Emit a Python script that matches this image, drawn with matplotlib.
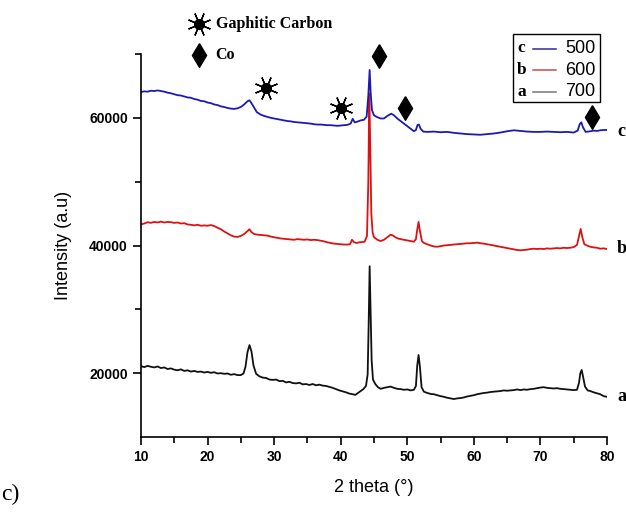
import matplotlib
matplotlib.use("Agg")
import matplotlib.pyplot as plt
from matplotlib.patches import Rectangle
from matplotlib.lines import Line2D
from matplotlib.ticker import FixedLocator

# ---- XRD patterns (2 theta in degrees, intensity in counts) ----
theta_a = [10.0, 10.5, 11.0, 11.5, 12.0, 12.5, 13.0, 13.5, 14.0, 14.5, 15.0, 15.5, 16.0, 16.5,
           17.0, 17.5, 18.0, 18.5, 19.0, 19.5, 20.0, 20.5, 21.0, 21.5, 22.0, 22.5, 23.0, 23.5,
           24.0, 24.5, 25.0, 25.4, 25.7, 26.0, 26.3, 26.6, 26.9, 27.3, 27.8, 28.3, 28.8, 29.3,
           29.8, 30.3, 30.8, 31.3, 31.8, 32.3, 32.8, 33.3, 33.8, 34.3, 34.8, 35.3, 35.8, 36.3,
           36.8, 37.3, 37.8, 38.3, 38.8, 39.3, 39.8, 40.3, 40.8, 41.3, 41.8, 42.2, 42.6, 43.0,
           43.4, 43.8, 44.05, 44.2, 44.35, 44.5, 44.65, 44.85, 45.2, 45.6, 46.0, 46.5, 47.0, 47.5,
           48.0, 48.5, 49.0, 49.5, 50.0, 50.5, 51.0, 51.3, 51.5, 51.7, 51.9, 52.15, 52.5, 53.0,
           53.5, 54.0, 54.5, 55.0, 55.5, 56.0, 56.5, 57.0, 57.5, 58.0, 58.5, 59.0, 59.5, 60.0,
           60.5, 61.0, 61.5, 62.0, 62.5, 63.0, 63.5, 64.0, 64.5, 65.0, 65.5, 66.0, 66.5, 67.0,
           67.5, 68.0, 68.5, 69.0, 69.5, 70.0, 70.5, 71.0, 71.5, 72.0, 72.5, 73.0, 73.5, 74.0,
           74.5, 75.0, 75.5, 75.8, 76.0, 76.2, 76.4, 76.7, 77.1, 77.5, 78.0, 78.5, 79.0, 79.5, 80.0]
int_a = [21100, 20950, 21150, 21000, 20900, 21050, 20800, 20900, 20650, 20750, 20550, 20450, 20600, 20350,
         20450, 20250, 20350, 20200, 20250, 20100, 20200, 20050, 20150, 19950, 20000, 19900, 19950, 19750,
         19850, 19700, 19700, 19950, 21000, 23300, 24400, 23400, 21200, 19900, 19500, 19300, 19250, 19000,
         18950, 19000, 18750, 18800, 18550, 18650, 18450, 18400, 18500, 18250, 18300, 18150, 18300, 18100,
         18200, 18050, 18000, 17850, 17700, 17500, 17300, 17150, 17000, 16800, 16700, 16600, 16900, 17200,
         17500, 18000, 19800, 27500, 36750, 29500, 22000, 19000, 18300, 17800, 17550, 17700, 17800, 17900,
         17700, 17550, 17500, 17400, 17450, 17300, 17400, 18000, 21200, 22850, 21000, 17800, 17100, 16900,
         16750, 16700, 16550, 16400, 16300, 16150, 16050, 15950, 16050, 16100, 16200, 16350, 16450, 16550,
         16700, 16800, 16900, 16950, 17050, 17100, 17150, 17200, 17300, 17250, 17300, 17350, 17450, 17350,
         17450, 17400, 17500, 17550, 17650, 17750, 17800, 17700, 17650, 17600, 17650, 17550, 17500, 17450,
         17400, 17350, 17400, 18500, 20000, 20500, 19500, 17900, 17300, 17200, 17000, 16850, 16700, 16400, 16300]

theta_b = [10.0, 10.5, 11.0, 11.5, 12.0, 12.5, 13.0, 13.5, 14.0, 14.5, 15.0, 15.5, 16.0, 16.5,
           17.0, 17.5, 18.0, 18.5, 19.0, 19.5, 20.0, 20.5, 21.0, 21.5, 22.0, 22.5, 23.0, 23.5,
           24.0, 24.5, 25.0, 25.5, 26.0, 26.3, 26.6, 27.0, 27.5, 28.0, 28.5, 29.0, 29.5, 30.0,
           30.5, 31.0, 31.5, 32.0, 32.5, 33.0, 33.5, 34.0, 34.5, 35.0, 35.5, 36.0, 36.5, 37.0,
           37.5, 38.0, 38.5, 39.0, 39.5, 40.0, 40.5, 41.0, 41.4, 41.7, 42.0, 42.4, 42.8, 43.2,
           43.6, 43.95, 44.15, 44.3, 44.45, 44.6, 44.8, 45.0, 45.5, 46.0, 46.5, 47.0, 47.5, 47.8,
           48.2, 48.6, 49.0, 49.5, 50.0, 50.5, 51.0, 51.3, 51.5, 51.7, 51.9, 52.2, 52.5, 53.0,
           53.5, 54.0, 54.5, 55.0, 55.5, 56.0, 56.5, 57.0, 57.5, 58.0, 58.5, 59.0, 59.5, 60.0,
           60.5, 61.0, 61.5, 62.0, 62.5, 63.0, 63.5, 64.0, 64.5, 65.0, 65.5, 66.0, 66.5, 67.0,
           67.5, 68.0, 68.5, 69.0, 69.5, 70.0, 70.5, 71.0, 71.5, 72.0, 72.5, 73.0, 73.5, 74.0,
           74.5, 75.0, 75.5, 75.8, 76.05, 76.3, 76.6, 77.0, 77.5, 78.0, 78.5, 79.0, 79.5, 80.0]
int_b = [43300, 43450, 43650, 43550, 43700, 43600, 43750, 43600, 43700, 43650, 43550, 43600, 43450, 43500,
         43300, 43250, 43150, 43250, 43100, 43150, 43100, 43200, 43050, 42800, 42550, 42200, 41900, 41600,
         41400, 41350, 41500, 41800, 42250, 42550, 42100, 41800, 41700, 41650, 41600, 41550, 41400, 41300,
         41200, 41100, 41050, 41000, 40950, 40900, 41000, 40950, 40900, 40950, 40850, 40900, 40850, 40750,
         40650, 40500, 40400, 40300, 40250, 40200, 40150, 40150, 40200, 40900, 40500, 40400, 40500, 40550,
         40600, 41500, 50000, 63800, 55000, 45000, 42000, 41300, 40900, 40700, 40900, 41300, 41700, 41600,
         41300, 41100, 41000, 40900, 40800, 40700, 40600, 41000, 42500, 43700, 42300, 40700, 40400, 40200,
         40000, 39850, 39800, 39900, 40000, 40050, 40100, 40150, 40200, 40250, 40300, 40350, 40350, 40400,
         40450, 40350, 40300, 40200, 40100, 40000, 39900, 39800, 39700, 39600, 39500, 39400, 39300, 39250,
         39300, 39350, 39450, 39500, 39450, 39500, 39450, 39550, 39500, 39550, 39600, 39550, 39650, 39600,
         39650, 39750, 40100, 41500, 42600, 41300, 40200, 40000, 39800, 39700, 39650, 39500, 39550, 39450]

theta_c = [10.0, 10.5, 11.0, 11.5, 12.0, 12.5, 13.0, 13.5, 14.0, 14.5, 15.0, 15.5, 16.0, 16.5,
           17.0, 17.5, 18.0, 18.5, 19.0, 19.5, 20.0, 20.5, 21.0, 21.5, 22.0, 22.5, 23.0, 23.5,
           24.0, 24.5, 25.0, 25.5, 26.0, 26.3, 26.6, 27.0, 27.4, 28.0, 28.5, 29.0, 29.5, 30.0,
           30.5, 31.0, 31.5, 32.0, 32.5, 33.0, 33.5, 34.0, 34.5, 35.0, 35.5, 36.0, 36.5, 37.0,
           37.5, 38.0, 38.5, 39.0, 39.5, 40.0, 40.5, 41.0, 41.5, 41.8, 42.1, 42.5, 43.0, 43.5,
           43.9, 44.15, 44.35, 44.5, 44.7, 45.0, 45.5, 46.0, 46.5, 47.0, 47.6, 48.0, 48.5, 49.0,
           49.5, 50.0, 50.5, 51.0, 51.3, 51.55, 51.75, 52.0, 52.4, 53.0, 54.0, 55.0, 56.0, 57.0,
           58.0, 59.0, 60.0, 61.0, 62.0, 63.0, 64.0, 65.0, 66.0, 67.0, 68.0, 69.0, 70.0, 71.0,
           72.0, 73.0, 74.0, 75.0, 75.6, 75.9, 76.15, 76.4, 76.8, 77.5, 78.0, 78.5, 79.0, 79.5, 80.0]
int_c = [64050, 64150, 64100, 64250, 64200, 64300, 64200, 64100, 63950, 63850, 63700, 63550, 63500, 63350,
         63200, 63150, 62950, 62850, 62650, 62600, 62400, 62300, 62100, 62000, 61800, 61700, 61550, 61450,
         61400, 61500, 61700, 62100, 62600, 62750, 62300, 61600, 60900, 60500, 60300, 60150, 60000, 59900,
         59800, 59700, 59600, 59500, 59450, 59350, 59300, 59250, 59200, 59150, 59100, 59000, 58950, 58950,
         58900, 58850, 58850, 58800, 58750, 58800, 58850, 58900, 59100, 59850, 59300, 59400, 59600, 59700,
         60200, 63500, 67500, 64000, 61200, 60400, 60100, 59900, 59900, 60300, 60650, 60400, 59900, 59500,
         59100, 58700, 58300, 57900, 58100, 58900, 58950, 58300, 57850, 57800, 57850, 57750, 57800, 57650,
         57550, 57450, 57400, 57350, 57450, 57550, 57700, 57900, 58050, 57950, 57850, 57800, 57800, 57850,
         57800, 57750, 57800, 57700, 58000, 59000, 59300, 58500, 57800, 57900, 58000, 57950, 58050, 58100, 58100]

series_letters = ["c", "b", "a"]
series_temps = ["500", "600", "700"]

# peak markers
carbon_theta = [28.8, 40.1]
carbon_int = [64700, 61600]
co_theta = [45.8, 49.7, 77.7]
co_int = [69700, 61600, 60150]

fig = plt.figure(figsize=(6.26, 5.14), dpi=100)
ax = fig.add_axes([0.2252, 0.1498, 0.7444, 0.7451])

ax.plot(theta_a, int_a, color="#111111", lw=1.3)
ax.plot(theta_b, int_b, color="#dd1111", lw=1.3)
ax.plot(theta_c, int_c, color="#1a1ab8", lw=1.3)

ax.set_xlim(10, 80)
ax.set_ylim(10000, 70000)
ax.spines["top"].set_visible(False)
ax.spines["right"].set_visible(False)
ax.xaxis.set_major_locator(FixedLocator([10, 20, 30, 40, 50, 60, 70, 80]))
ax.xaxis.set_minor_locator(FixedLocator([15, 25, 35, 45, 55, 65, 75]))
ax.yaxis.set_major_locator(FixedLocator([20000, 40000, 60000]))
ax.yaxis.set_minor_locator(FixedLocator([30000, 50000, 70000]))
ax.tick_params(which="major", direction="out", length=6, width=1.2)
ax.tick_params(which="minor", direction="out", length=4, width=1.2)
for s in ["left", "bottom"]:
    ax.spines[s].set_linewidth(1.2)
for lab in ax.get_xticklabels() + ax.get_yticklabels():
    lab.set_fontfamily("Liberation Sans")
    lab.set_fontweight("bold")
    lab.set_fontsize(10)

ax.set_xlabel("2 theta (°)", family="Liberation Sans", fontsize=13, labelpad=11)
ax.set_ylabel("Intensity (a.u)", family="Liberation Sans", fontsize=13, labelpad=12)

# peak symbols
diamond = [(0, 1), (0.6, 0), (0, -1), (-0.6, 0), (0, 1)]
ax.plot(carbon_theta, carbon_int, ls="none", marker="o", ms=7, color="black", clip_on=False)
ax.plot(carbon_theta, carbon_int, ls="none", marker=(8, 2, 22.5), ms=17, mew=1.0,
        color="black", clip_on=False)
ax.plot(co_theta, co_int, ls="none", marker=diamond, ms=17, color="black", clip_on=False)

# key for peak symbols (above the axes)
ax.plot([18.7], [74700], ls="none", marker="o", ms=7, color="black", clip_on=False)
ax.plot([18.7], [74700], ls="none", marker=(8, 2, 22.5), ms=17, mew=1.0, color="black",
        clip_on=False)
ax.plot([18.7], [69800], ls="none", marker=diamond, ms=17, color="black", clip_on=False)
ax.text(21.2, 74700, "Gaphitic Carbon", family="Liberation Serif", weight="bold",
        fontsize=11.5, va="center", ha="left")
ax.text(21.2, 69800, "Co", family="Liberation Serif", weight="bold",
        fontsize=11.5, va="center", ha="left")

# curve letters at right end
for letter, yv in zip(series_letters, [57800, 39600, 16400]):
    ax.text(81.5, yv, letter, family="Liberation Serif", weight="bold", fontsize=13,
            va="center", ha="left", clip_on=False)

# legend box
fig_w, fig_h = 626, 514
box_l, box_t, box_r, box_b = 513, 34, 600, 102
fig.add_artist(Rectangle((box_l / fig_w, 1 - box_b / fig_h), (box_r - box_l) / fig_w,
                         (box_b - box_t) / fig_h, transform=fig.transFigure,
                         fill=False, edgecolor="black", lw=1.0))
leg_colors = ["#2a2a9a", "#c84a4a", "#777777"]
for i, (letter, temp, col) in enumerate(zip(series_letters, series_temps, leg_colors)):
    yy = 1 - (48.5 + i * 21.7) / fig_h
    fig.text(517 / fig_w, yy, letter, family="Liberation Serif", weight="bold",
             fontsize=12.5, va="center", ha="left")
    fig.add_artist(Line2D([533 / fig_w, 556 / fig_w], [yy, yy], transform=fig.transFigure,
                          color=col, lw=1.1))
    fig.text(565 / fig_w, yy, temp, family="Liberation Sans", fontsize=13,
             va="center", ha="left")

fig.text(1 / fig_w, 1 - 494 / fig_h, "c)", family="Liberation Serif", fontsize=17,
         va="center", ha="left")

fig.savefig("out.png", dpi=100)
